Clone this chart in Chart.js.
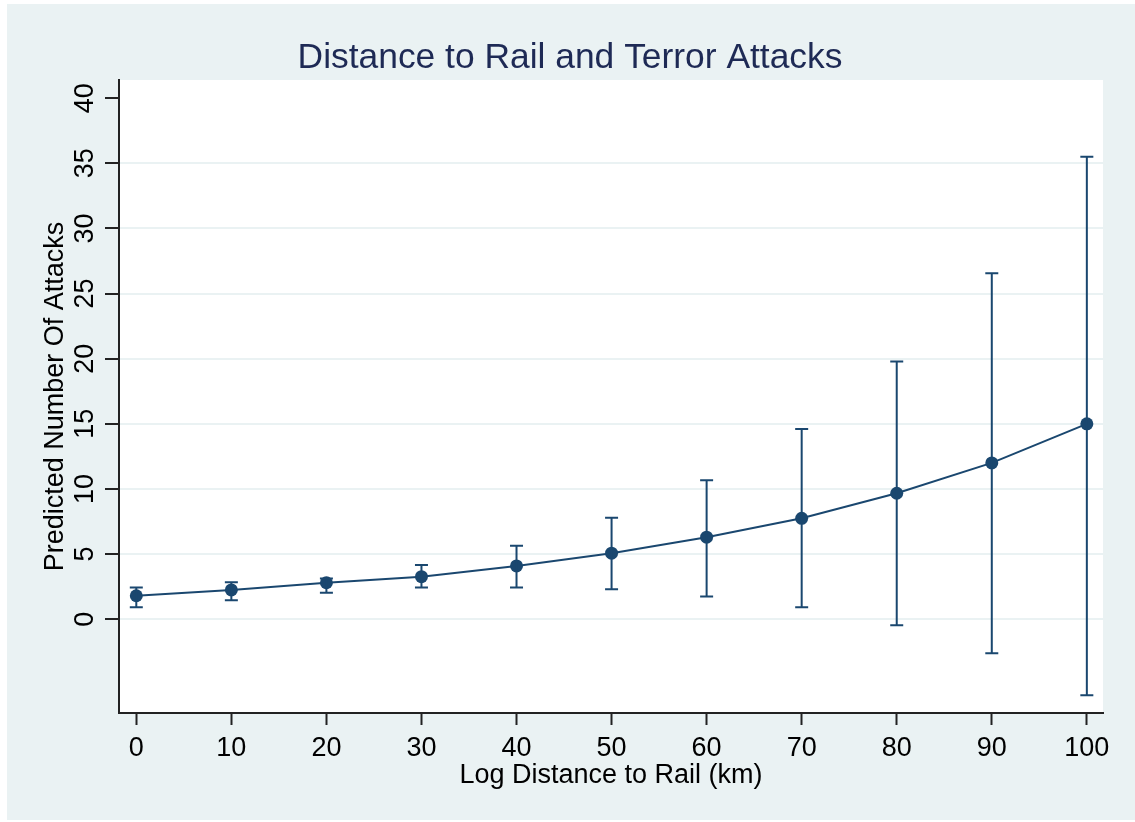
<!DOCTYPE html>
<html>
<head>
<meta charset="utf-8">
<script src="https://cdn.jsdelivr.net/npm/chart.js@4/dist/chart.umd.min.js"></script>
<style>
html,body{margin:0;padding:0;background:#fff;}
canvas{display:block;}
</style>
</head>
<body>
<canvas id="c" width="1135" height="822"></canvas>
<script>
// ---- data ----
const distances = [0, 10, 20, 30, 40, 50, 60, 70, 80, 90, 100];
const predicted = [1.8, 2.25, 2.8, 3.27, 4.09, 5.07, 6.3, 7.75, 9.67, 12.0, 15.0];
const upperCI   = [2.43, 2.84, 3.12, 4.17, 5.65, 7.8, 10.67, 14.61, 19.78, 26.56, 35.5];
const lowerCI   = [0.92, 1.46, 2.04, 2.43, 2.43, 2.3, 1.74, 0.92, -0.46, -2.61, -5.83];
const xTickValues = [0, 10, 20, 30, 40, 50, 60, 70, 80, 90, 100];
const yTickValues = [0, 5, 10, 15, 20, 25, 30, 35, 40];
const titleText = 'Distance to Rail and Terror Attacks';
const xTitle = 'Log Distance to Rail (km)';
const yTitle = 'Predicted Number Of Attacks';

const NAVY = '#1a476f';
const BG = '#eaf2f3';
const FONT = '"Liberation Sans", Arial, sans-serif';

const decor = {
  id: 'decor',
  beforeDraw(chart) {
    const ctx = chart.ctx, a = chart.chartArea;
    ctx.save();
    ctx.fillStyle = '#ffffff';
    ctx.fillRect(0, 0, chart.width, chart.height);
    ctx.fillStyle = BG;
    ctx.fillRect(7, 4, chart.width - 7, 816);
    ctx.fillStyle = '#ffffff';
    ctx.fillRect(a.left, a.top, a.right - a.left, a.bottom - a.top);
    ctx.restore();
  },
  afterDatasetsDraw(chart) {
    const ctx = chart.ctx, xs = chart.scales.x, ys = chart.scales.y;
    ctx.save();
    ctx.strokeStyle = NAVY;
    ctx.lineWidth = 2;
    for (let i = 0; i < distances.length; i++) {
      const px = xs.getPixelForValue(distances[i]);
      const pt = ys.getPixelForValue(upperCI[i]);
      const pb = ys.getPixelForValue(lowerCI[i]);
      ctx.beginPath();
      ctx.moveTo(px, pt); ctx.lineTo(px, pb);
      ctx.moveTo(px - 6.5, pt); ctx.lineTo(px + 6.5, pt);
      ctx.moveTo(px - 6.5, pb); ctx.lineTo(px + 6.5, pb);
      ctx.stroke();
    }
    ctx.restore();
  },
  afterDraw(chart) {
    const ctx = chart.ctx, a = chart.chartArea, xs = chart.scales.x, ys = chart.scales.y;
    ctx.save();
    // title (centred on the whole graph region)
    ctx.fillStyle = '#1e2a55';
    ctx.font = '35.4px ' + FONT;
    ctx.textAlign = 'center';
    ctx.textBaseline = 'alphabetic';
    ctx.fillText(titleText, 570, 68);
    // x tick labels
    ctx.fillStyle = '#000';
    ctx.font = '27px ' + FONT;
    xTickValues.forEach(v => {
      ctx.fillText(String(v), xs.getPixelForValue(v), 756);
    });
    // x title
    ctx.fillText(xTitle, (a.left + a.right) / 2, 783);
    // y tick labels (rotated)
    yTickValues.forEach(v => {
      ctx.save();
      ctx.translate(93, ys.getPixelForValue(v));
      ctx.rotate(-Math.PI / 2);
      ctx.fillText(String(v), 0, 0);
      ctx.restore();
    });
    // y title
    ctx.save();
    ctx.translate(63, (a.top + a.bottom) / 2);
    ctx.rotate(-Math.PI / 2);
    ctx.fillText(yTitle, 0, 0);
    ctx.restore();
    ctx.restore();
  }
};

new Chart(document.getElementById('c'), {
  type: 'line',
  data: {
    datasets: [{
      data: distances.map((d, i) => ({ x: d, y: predicted[i] })),
      borderColor: NAVY,
      backgroundColor: NAVY,
      borderWidth: 2,
      pointRadius: 6.5,
      pointBackgroundColor: NAVY,
      pointBorderColor: NAVY,
      pointBorderWidth: 0,
      tension: 0,
      fill: false
    }]
  },
  options: {
    responsive: false,
    animation: false,
    devicePixelRatio: 1,
    layout: { padding: { left: 0, top: 80, right: 32, bottom: 0 } },
    plugins: { legend: { display: false }, title: { display: false }, tooltip: { enabled: false } },
    scales: {
      x: {
        type: 'linear',
        min: -1.82,
        max: 101.7,
        afterBuildTicks(s) { s.ticks = xTickValues.map(v => ({ value: v })); },
        afterFit(s) { s.height = 109; },
        ticks: { display: false },
        grid: { drawOnChartArea: false, drawTicks: true, tickLength: 12, tickColor: '#222', tickWidth: 2 },
        border: { display: true, color: '#222', width: 2 }
      },
      y: {
        type: 'linear',
        min: -7.2,
        max: 41.4,
        afterBuildTicks(s) { s.ticks = yTickValues.map(v => ({ value: v })); },
        afterFit(s) { s.width = 119; },
        ticks: { display: false },
        grid: {
          color: ctx => (ctx.tick && ctx.tick.value === 40) ? 'rgba(0,0,0,0)' : BG,
          lineWidth: 2,
          drawTicks: true, tickLength: 14, tickColor: '#222', tickWidth: 2
        },
        border: { display: true, color: '#222', width: 2 }
      }
    }
  },
  plugins: [decor]
});
</script>
</body>
</html>
